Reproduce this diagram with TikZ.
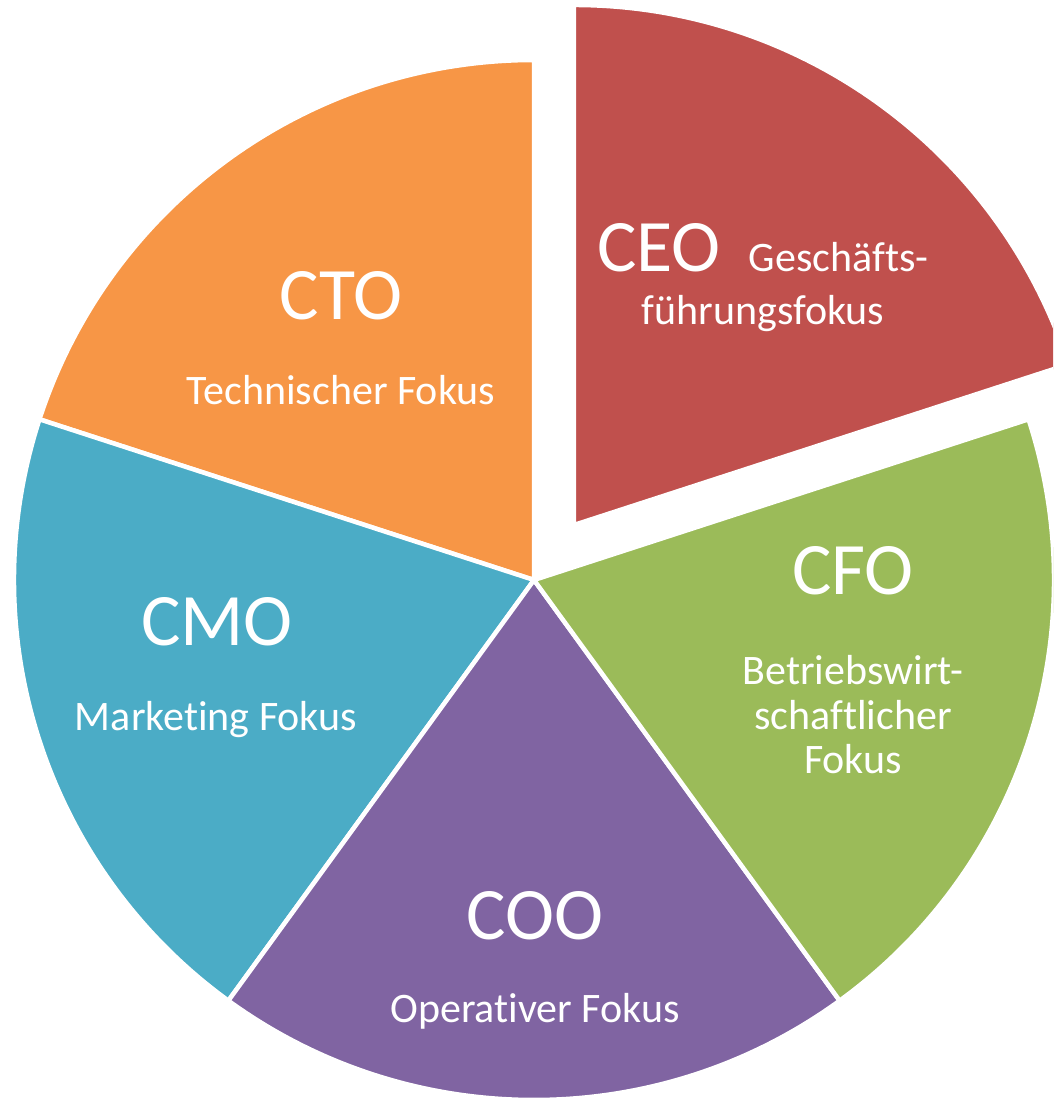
\documentclass[tikz,border=0pt]{standalone}
\usepackage{fontspec}
\setmainfont[RawFeature={-liga;-clig;-calt;-dlig}]{Carlito}
\usetikzlibrary{calc}
\definecolor{ceo}{HTML}{C0504D}
\definecolor{cfo}{HTML}{9BBB59}
\definecolor{coo}{HTML}{8064A2}
\definecolor{cmo}{HTML}{4BACC6}
\definecolor{cto}{HTML}{F79646}
\newcommand\BigLbl{\fontsize{74}{89}\selectfont}
\newcommand\SmLbl{\fontsize{42}{50}\selectfont}
\tikzset{
  slice/.style={draw=white, line width=4.5pt, line join=round},
  biglbl/.style={text=white, font=\BigLbl, anchor=base, inner sep=0pt},
  smlbl/.style={text=white, font=\SmLbl, anchor=base, inner sep=0pt},
}
\begin{document}
\begin{tikzpicture}[x=1pt,y=1pt]
\useasboundingbox (0,0) rectangle (1053,1101);
\clip (0,0) rectangle (1053,1101);
\fill[white] (0,0) rectangle (1053,1101);
\def\R{520}
\coordinate (c) at (534,521);
\coordinate (ce) at ($(c)+(54:68)$);
% slices
\filldraw[slice, fill=cto] (c) -- ++(90:\R) arc[start angle=90, end angle=162, radius=\R] -- cycle;
\filldraw[slice, fill=cmo] (c) -- ++(162:\R) arc[start angle=162, end angle=234, radius=\R] -- cycle;
\filldraw[slice, fill=coo] (c) -- ++(234:\R) arc[start angle=234, end angle=306, radius=\R] -- cycle;
\filldraw[slice, fill=cfo] (c) -- ++(306:\R) arc[start angle=306, end angle=378, radius=\R] -- cycle;
\filldraw[slice, fill=ceo] (ce) -- ++(18:\R) arc[start angle=18, end angle=90, radius=\R] -- cycle;
% labels
\node[biglbl] (ctoT) at (341,781) {CTO};
\node[smlbl] (ctoS) at (341,696) {Technischer Fokus};
\node[text=white, anchor=base, inner sep=0pt] (ceoT) at (763,829) {{\BigLbl CEO}\hspace{28pt}{\SmLbl Geschäfts-}};
\node[smlbl] (ceoS) at (763,776) {führungsfokus};
\node[biglbl] (cfoT) at (853,506) {CFO};
\node[smlbl] (cfoS1) at (853,416) {Betriebswirt-};
\node[smlbl] (cfoS2) at (853,371) {schaftlicher};
\node[smlbl] (cfoS3) at (853,327) {Fokus};
\node[biglbl] (cmoT) at (217,455) {CMO};
\node[smlbl] (cmoS) at (216,370) {Marketing Fokus};
\node[biglbl] (cooT) at (535,161) {COO};
\node[smlbl] (cooS) at (535,78) {Operativer Fokus};
\end{tikzpicture}
\end{document}
